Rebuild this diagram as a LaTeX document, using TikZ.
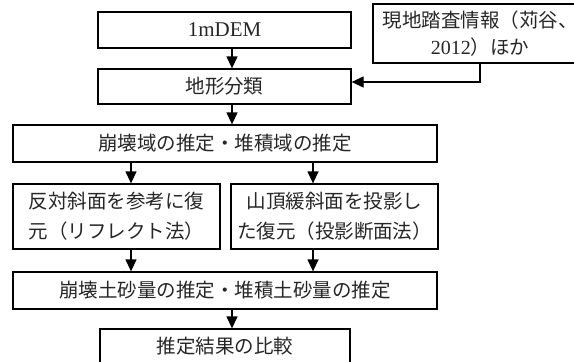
\documentclass[tikz,border=0pt]{standalone}
\usepackage{fontspec}
\setmainfont{Liberation Serif}
\newfontfamily\cjk{Noto Sans CJK JP}
\usetikzlibrary{arrows.meta}
\begin{document}
\begin{tikzpicture}[x=1pt,y=-1pt,
  box/.style={draw=black, line width=1.3pt, inner sep=0pt, align=center, text=black!85,
    font=\cjk\fontsize{19.5}{30}\selectfont},
  arr/.style={draw=black, line width=1.3pt, -{Triangle[length=12pt,width=11pt]}}]
\useasboundingbox (0,0) rectangle (574,362);
\coordinate (ax) at (232,0);
\coordinate (bl) at (131,0);
\coordinate (br) at (313,0);
\coordinate (ay) at (0,82);
\node[box, minimum width=253pt, minimum height=36pt] (dem) at (224.5,30)
  {{\rmfamily\fontsize{21}{25}\selectfont 1mDEM}};
\node[box, minimum width=214pt, minimum height=59pt, font=\cjk\fontsize{19.5}{27}\selectfont] (gen) at (480,33.5)
  {現地踏査情報（苅谷、\\{\rmfamily\fontsize{20}{27}\selectfont 2012}）ほか};
\node[box, minimum width=253pt, minimum height=35pt] (chikei) at (224.5,86.5) {地形分類};
\node[box, minimum width=424pt, minimum height=37pt] (houkai) at (225,143.5) {崩壊域の推定・堆積域の推定};
\node[box, minimum width=207pt, minimum height=65pt] (left) at (116.5,216.5) {反対斜面を参考に復\\元（リフレクト法）};
\node[box, minimum width=207pt, minimum height=65pt] (right) at (334.5,216.5) {山頂緩斜面を投影し\\た復元（投影断面法）};
\node[box, minimum width=424pt, minimum height=37pt] (dosha) at (225,290.5) {崩壊土砂量の推定・堆積土砂量の推定};
\node[box, minimum width=250pt, minimum height=34pt] (hikaku) at (225,346) {推定結果の比較};
\draw[arr] (dem.south -| ax) -- (chikei.north -| ax);
\draw[arr] (gen.south) |- (chikei.east |- ay);
\draw[arr] (chikei.south -| ax) -- (houkai.north -| ax);
\draw[arr] (houkai.south -| bl) -- (left.north -| bl);
\draw[arr] (houkai.south -| br) -- (right.north -| br);
\draw[arr] (left.south -| bl) -- (dosha.north -| bl);
\draw[arr] (right.south -| br) -- (dosha.north -| br);
\draw[arr] (dosha.south -| ax) -- (hikaku.north -| ax);
\end{tikzpicture}
\end{document}
